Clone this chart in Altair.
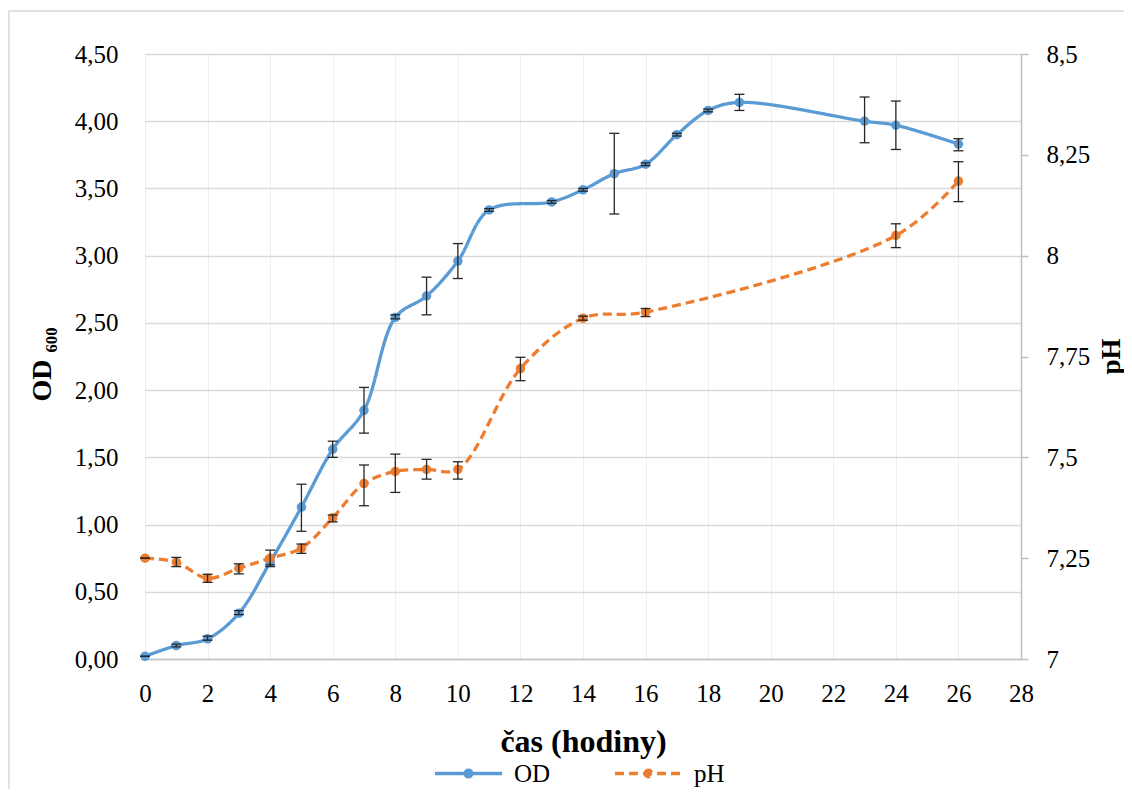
import altair as alt
import pandas as pd

# ---- data ----
od_hours = [0, 1, 2, 3, 4, 5, 6, 7, 8, 9, 10, 11, 13, 14, 15, 16, 17, 18, 19, 23, 24, 26]
od_values = [0.02, 0.10, 0.15, 0.34, 0.72, 1.13, 1.56, 1.85, 2.54, 2.70, 2.96, 3.34,
             3.40, 3.49, 3.61, 3.68, 3.90, 4.08, 4.14, 4.00, 3.97, 3.83]
od_low = [0.02, 0.09, 0.14, 0.33, 0.70, 0.95, 1.50, 1.68, 2.53, 2.56, 2.83, 3.33,
          3.39, 3.48, 3.31, 3.67, 3.89, 4.07, 4.08, 3.84, 3.79, 3.78]
od_high = [0.02, 0.11, 0.17, 0.36, 0.76, 1.30, 1.62, 2.02, 2.56, 2.84, 3.09, 3.35,
           3.41, 3.50, 3.91, 3.69, 3.91, 4.09, 4.20, 4.18, 4.15, 3.87]

ph_hours = [0, 1, 2, 3, 4, 5, 6, 7, 8, 9, 10, 12, 14, 16, 24, 26]
ph_values = [7.25, 7.24, 7.20, 7.225, 7.25, 7.275, 7.35, 7.435, 7.465, 7.47, 7.47,
             7.72, 7.845, 7.86, 8.05, 8.185]
ph_low = [7.25, 7.229, 7.19, 7.211, 7.229, 7.262, 7.34, 7.38, 7.413, 7.446, 7.446,
          7.69, 7.84, 7.849, 8.02, 8.134]
ph_high = [7.25, 7.252, 7.21, 7.236, 7.27, 7.285, 7.357, 7.481, 7.508, 7.495, 7.489,
           7.748, 7.85, 7.869, 8.079, 8.233]

x_ticks = list(range(0, 29, 2))
od_ticks = [0, 0.5, 1, 1.5, 2, 2.5, 3, 3.5, 4, 4.5]
ph_ticks = [7, 7.25, 7.5, 7.75, 8, 8.25, 8.5]
series_names = ["OD", "pH"]
series_colors = ["#5B9BD5", "#ED7D31"]

od_df = pd.DataFrame({"t": od_hours, "v": od_values, "lo": od_low, "hi": od_high, "series": "OD"})
ph_df = pd.DataFrame({"t": ph_hours, "v": ph_values, "lo": ph_low, "hi": ph_high, "series": "pH"})

FONT = "'Liberation Serif', 'DejaVu Serif', serif"
GRID = "#d9d9d9"
AXISLINE = "#bfbfbf"
ERR = "#262626"

LEG_PATH = ("M-1,0L1,0M-0.1,0A0.1,0.1,0,1,1,0.1,0"
            "A0.1,0.1,0,1,1,-0.1,0Z")


def make_legend(x, color):
    return alt.Legend(
        orient="none", legendX=x, legendY=684, direction="horizontal", title=None,
        symbolType=LEG_PATH, symbolSize=4489, symbolStrokeWidth=3.3,
        symbolFillColor=color,
        labelFont=FONT, labelFontSize=25, labelColor="black", labelOffset=10,
    )


x_scale = alt.Scale(domain=[0, 28], nice=False)
x_axis = alt.Axis(
    values=x_ticks, grid=True, gridColor="#efefef", gridWidth=1,
    domainColor=AXISLINE, domainWidth=1.5, ticks=False, labelFlush=False,
    labelFont=FONT, labelFontSize=25, labelColor="black", labelPadding=22,
    title="čas (hodiny)", titleFont=FONT, titleFontSize=32, titleFontWeight="bold",
    titleColor="black", titleX=438, titleY=82, titleBaseline="middle",
    titleAlign="center",
)
x_enc = alt.X("t:Q", scale=x_scale, axis=x_axis)

od_scale = alt.Scale(domain=[0, 4.5], nice=False, zero=False)
od_axis = alt.Axis(
    orient="left", values=od_ticks, grid=True, gridColor=GRID, gridWidth=1.3,
    domain=False, ticks=False,
    labelExpr="replace(format(datum.value, '.2f'), '.', ',')",
    labelFont=FONT, labelFontSize=25, labelColor="black", labelPadding=27,
    title="OD ₆₀₀", titleFont=FONT, titleFontSize=28, titleFontWeight="bold",
    titleColor="black", titleX=-103, titleY=310, titleAngle=270,
    titleBaseline="middle", titleAlign="center",
)

ph_scale = alt.Scale(domain=[7, 8.5], nice=False, zero=False)
ph_axis = alt.Axis(
    orient="right", values=ph_ticks, grid=False,
    domainColor=AXISLINE, domainWidth=1.5, ticks=True, tickColor=AXISLINE,
    tickSize=7, tickWidth=1.5,
    labelExpr="replace(toString(datum.value), '.', ',')",
    labelFont=FONT, labelFontSize=25, labelColor="black", labelPadding=18,
    title="pH", titleFont=FONT, titleFontSize=27, titleFontWeight="bold",
    titleColor="black", titleX=90, titleY=302, titleAngle=270,
    titleBaseline="middle", titleAlign="center",
)


def group(df, name, color, y_scale, y_axis, dash, legend_x):
    base = alt.Chart(df)
    leg = make_legend(legend_x, color)

    def yq(field):
        return alt.Y(field, type="quantitative", scale=y_scale, axis=y_axis)

    line = base.mark_line(strokeWidth=3.3, interpolate="catmull-rom").encode(
        x=x_enc,
        y=yq("v"),
        color=alt.Color("series:N", scale=alt.Scale(domain=[name], range=[color]), legend=leg),
        strokeDash=alt.StrokeDash("series:N", scale=alt.Scale(domain=[name], range=[dash]), legend=leg),
    )
    pts = base.mark_point(filled=True, size=90, opacity=1, color=color).encode(
        x=x_enc, y=yq("v")
    )
    rule = base.mark_rule(color=ERR, strokeWidth=1.3).encode(
        x=x_enc, y=yq("lo"), y2="hi:Q"
    )
    cap_lo = base.mark_tick(orient="horizontal", size=10, thickness=1.3, color=ERR, opacity=1).encode(
        x=x_enc, y=yq("lo")
    )
    cap_hi = base.mark_tick(orient="horizontal", size=10, thickness=1.3, color=ERR, opacity=1).encode(
        x=x_enc, y=yq("hi")
    )
    return alt.layer(line, pts, rule, cap_lo, cap_hi)


od_layer = group(od_df, series_names[0], series_colors[0], od_scale, od_axis, [1, 0], 288)
ph_layer = group(ph_df, series_names[1], series_colors[1], ph_scale, ph_axis, [9, 5], 468)

frame = alt.Chart(alt.Data(values=[{}])).mark_rect(
    fill=None, stroke=GRID, strokeWidth=1.5
).encode(
    x=alt.value(-136), x2=alt.value(1100), y=alt.value(-43), y2=alt.value(900)
)

chart = alt.layer(frame, od_layer, ph_layer).resolve_scale(
    y="independent", color="independent", strokeDash="independent"
).properties(
    width=876, height=605,
    autosize=alt.AutoSizeParams(type="none"),
    padding={"left": 137, "top": 46, "right": 103, "bottom": 130},
).configure(font=FONT).configure_view(stroke=None)

chart.save("out.html", embed_options={"renderer": "svg", "actions": False})
